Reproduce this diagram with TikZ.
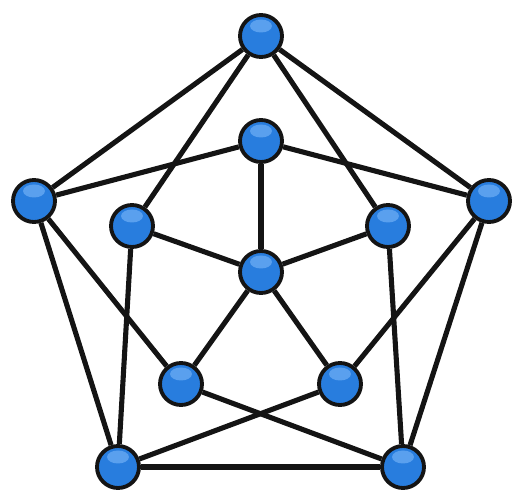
\documentclass[tikz,border=0pt]{standalone}
\definecolor{ballblue}{RGB}{40,125,222}
\definecolor{balllight}{RGB}{90,160,238}
\definecolor{edgeblack}{RGB}{20,20,20}
\tikzset{
  vert/.style={circle, draw=edgeblack, line width=2.2pt, fill=ballblue,
    minimum size=0.84cm, inner sep=0pt,
    path picture={\fill[balllight] (path picture bounding box.center) ++(0,0.2) ellipse (0.22 and 0.13);}},
  link/.style={draw=edgeblack, line width=2.9pt}
}
\begin{document}
\begin{tikzpicture}
  \useasboundingbox (0,0) rectangle (10.5,10.04);

  %%outer
  \node[vert] (o1) at (5.22, 9.32) {};
  \node[vert] (o2) at (0.68, 6.02) {};
  \node[vert] (o3) at (9.78, 6.02) {};
  \node[vert] (o4) at (2.36, 0.70) {};
  \node[vert] (o5) at (8.06, 0.70) {};

  %%inner
  \node[vert] (i1) at (5.22, 7.22) {};
  \node[vert] (i2) at (2.64, 5.52) {};
  \node[vert] (i3) at (7.76, 5.52) {};
  \node[vert] (i4) at (3.62, 2.36) {};
  \node[vert] (i5) at (6.80, 2.36) {};

  %%centre
  \node[vert] (c) at (5.22, 4.60) {};

  %%outer ring
  \draw[link] (o1) to (o2);
  \draw[link] (o1) to (o3);
  \draw[link] (o2) to (o4);
  \draw[link] (o3) to (o5);
  \draw[link] (o4) to (o5);

  %%outer to inner
  \draw[link] (o1) to (i2);
  \draw[link] (o1) to (i3);
  \draw[link] (o2) to (i1);
  \draw[link] (o2) to (i4);
  \draw[link] (o3) to (i1);
  \draw[link] (o3) to (i5);
  \draw[link] (o4) to (i2);
  \draw[link] (o4) to (i5);
  \draw[link] (o5) to (i3);
  \draw[link] (o5) to (i4);

  %%spokes
  \foreach \v in {i1, i2, i3, i4, i5}
    \draw[link] (c) to (\v);

\end{tikzpicture}
\end{document}
